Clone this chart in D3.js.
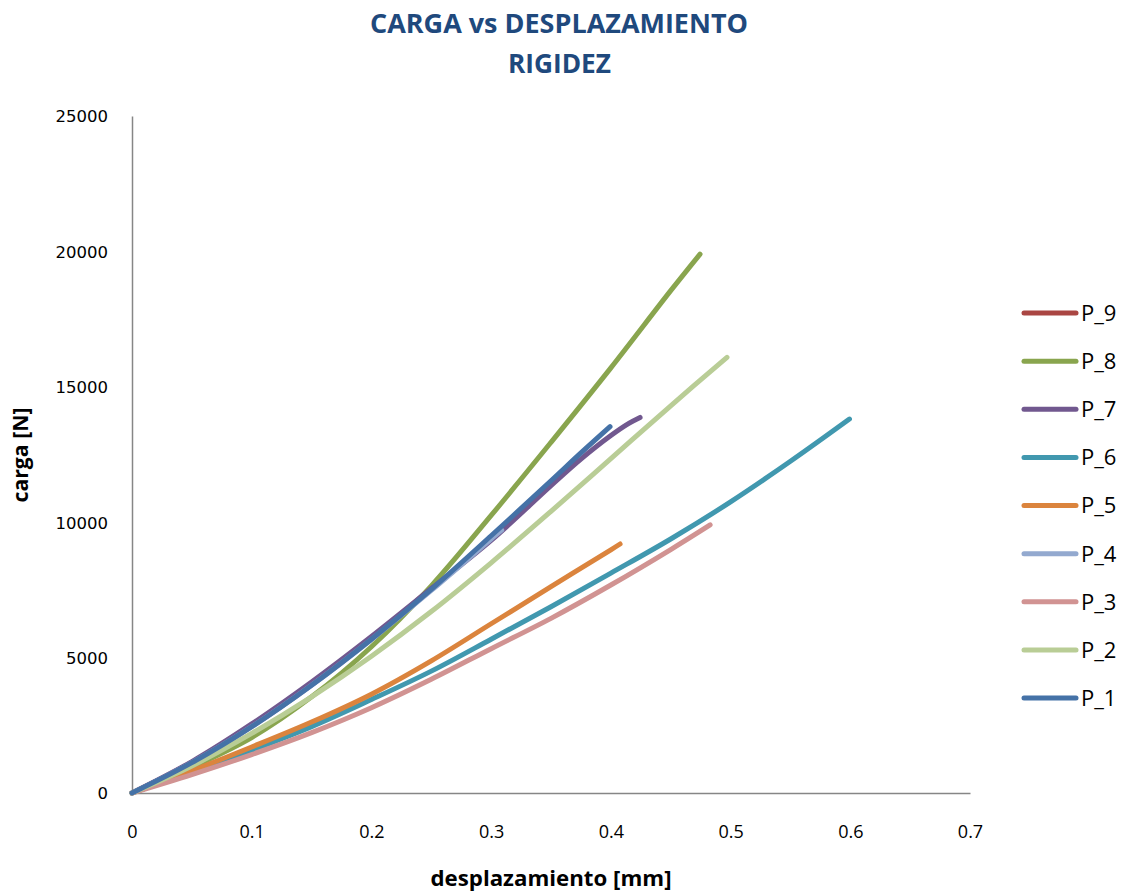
<!DOCTYPE html>
<html>
<head>
<meta charset="utf-8">
<script src="https://cdn.jsdelivr.net/npm/d3@7"></script>
<style>
  html, body { margin: 0; padding: 0; background: #fff; }
  svg { display: block; }
</style>
</head>
<body>
<svg id="chart" width="1128" height="894"></svg>
<script>
// ---- Data ----
const seriesNames = ["P_1", "P_2", "P_3", "P_4", "P_5", "P_6", "P_7", "P_8", "P_9"];
const seriesColors = ["#4572A7", "#B9CD96", "#D19392", "#93A9CF", "#DB843D", "#4198AF", "#71588F", "#89A54E", "#AA4643"];

// displacement [mm], load [N]
const P_1 = [[0,0],[0.05,1120],[0.1,2450],[0.15,3980],[0.2,5680],[0.25,7520],[0.3,9500],[0.35,11530],[0.375,12560],[0.3993,13530]];
const P_2 = [[0,0],[0.05,1000],[0.1,2200],[0.15,3550],[0.2,5050],[0.25,6700],[0.3,8500],[0.35,10400],[0.4,12350],[0.45,14300],[0.497,16090]];
const P_3 = [[0,0],[0.05,680],[0.1,1420],[0.15,2230],[0.2,3150],[0.25,4200],[0.3,5330],[0.35,6450],[0.4,7680],[0.45,8990],[0.4829,9900]];
const P_4 = [[0,0],[0.05,1120],[0.1,2450],[0.15,3980],[0.2,5670],[0.25,7480],[0.3,9380],[0.3088,9710]];
const P_5 = [[0,0],[0.05,820],[0.1,1700],[0.15,2620],[0.2,3650],[0.25,4880],[0.3,6250],[0.35,7620],[0.4,8980],[0.4077,9195]];
const P_6 = [[0,0],[0.05,770],[0.1,1580],[0.15,2450],[0.2,3450],[0.25,4500],[0.3,5680],[0.35,6880],[0.4,8120],[0.45,9380],[0.5,10750],[0.55,12250],[0.5993,13810]];
const P_7 = [[0,0],[0.05,1160],[0.1,2550],[0.15,4100],[0.2,5780],[0.25,7550],[0.3,9330],[0.35,11350],[0.375,12330],[0.4,13200],[0.415,13650],[0.4244,13870]];
const P_8 = [[0,0],[0.05,950],[0.1,2050],[0.15,3550],[0.2,5400],[0.25,7650],[0.3,10250],[0.35,12950],[0.4,15700],[0.45,18550],[0.4745,19900]];
const P_9 = [[0,0],[0.05,1130],[0.1,2470],[0.15,4000],[0.2,5700],[0.248,7480]];
const seriesData = [P_1, P_2, P_3, P_4, P_5, P_6, P_7, P_8, P_9];

const xTicks = [0, 0.1, 0.2, 0.3, 0.4, 0.5, 0.6, 0.7];
const yTicks = [0, 5000, 10000, 15000, 20000, 25000];

const titleLines = ["CARGA vs DESPLAZAMIENTO", "RIGIDEZ"];
const xTitle = "desplazamiento [mm]";
const yTitle = "carga [N]";

// ---- Layout ----
const svg = d3.select("#chart");
const plot = { left: 132, right: 970, top: 116, bottom: 793 };

const x = d3.scaleLinear().domain([0, 0.7]).range([plot.left, plot.right]);
const y = d3.scaleLinear().domain([0, 25000]).range([plot.bottom, plot.top]);

// Title
svg.append("text")
  .attr("x", 559).attr("y", 33)
  .attr("text-anchor", "middle")
  .attr("font-family", "'Open Sans', sans-serif")
  .attr("font-weight", "bold").attr("font-size", 27)
  .attr("fill", "#1F497D")
  .attr("textLength", 378).attr("lengthAdjust", "spacingAndGlyphs")
  .text(titleLines[0]);
svg.append("text")
  .attr("x", 559.5).attr("y", 73)
  .attr("text-anchor", "middle")
  .attr("font-family", "'Open Sans', sans-serif")
  .attr("font-weight", "bold").attr("font-size", 27)
  .attr("fill", "#1F497D")
  .attr("textLength", 103).attr("lengthAdjust", "spacingAndGlyphs")
  .text(titleLines[1]);

// Axes
const xAxis = d3.axisBottom(x).tickValues(xTicks).tickSize(0).tickPadding(0)
  .tickFormat(d => d === 0 ? "0" : d3.format(".1f")(d));
const gx = svg.append("g").attr("transform", `translate(0,${plot.bottom})`).call(xAxis);
gx.select(".domain").attr("stroke", "#868686").attr("stroke-width", 1.5);
gx.selectAll(".tick text")
  .attr("y", 45).attr("dy", 0)
  .attr("font-family", "'Liberation Sans Narrow', 'Open Sans', sans-serif")
  .attr("font-size", 18).attr("fill", "#000");

const yAxis = d3.axisLeft(y).tickValues(yTicks).tickSize(0).tickPadding(0)
  .tickFormat(d3.format("d"));
const gy = svg.append("g").attr("transform", `translate(${plot.left},0)`).call(yAxis);
gy.select(".domain").attr("stroke", "#868686").attr("stroke-width", 1.5);
gy.selectAll(".tick text")
  .attr("x", -24).attr("dy", "0.36em")
  .attr("font-family", "'DejaVu Sans', sans-serif")
  .attr("font-size", 16.5).attr("fill", "#000");

// Axis titles
svg.append("text")
  .attr("x", 551).attr("y", 886)
  .attr("text-anchor", "middle")
  .attr("font-family", "'Open Sans', sans-serif")
  .attr("font-weight", "bold").attr("font-size", 21)
  .attr("fill", "#000")
  .attr("textLength", 241).attr("lengthAdjust", "spacingAndGlyphs")
  .text(xTitle);
svg.append("text")
  .attr("transform", "translate(28,455) rotate(-90)")
  .attr("text-anchor", "middle")
  .attr("font-family", "'Open Sans', sans-serif")
  .attr("font-weight", "bold").attr("font-size", 21)
  .attr("fill", "#000")
  .attr("textLength", 95).attr("lengthAdjust", "spacingAndGlyphs")
  .text(yTitle);

// Lines (P_9 drawn first, P_1 on top)
const line = d3.line()
  .x(d => x(d[0]))
  .y(d => y(d[1]))
  .curve(d3.curveCatmullRom.alpha(0.5));

const order = d3.range(seriesNames.length).reverse();
svg.append("g").selectAll("path")
  .data(order)
  .join("path")
  .attr("d", i => line(seriesData[i]))
  .attr("fill", "none")
  .attr("stroke", i => seriesColors[i])
  .attr("stroke-width", 5)
  .attr("stroke-linecap", "round")
  .attr("stroke-linejoin", "round");

// Legend (P_9 on top, P_1 at bottom)
const legendY = d3.scaleLinear().domain([0, 8]).range([313, 698]);
const lg = svg.append("g").selectAll("g")
  .data(order)
  .join("g")
  .attr("transform", (d, k) => `translate(0,${legendY(k)})`);
lg.append("line")
  .attr("x1", 1024).attr("x2", 1076)
  .attr("stroke", i => seriesColors[i])
  .attr("stroke-width", 5)
  .attr("stroke-linecap", "round");
lg.append("text")
  .attr("x", 1081).attr("y", 0).attr("dy", "0.36em")
  .attr("font-family", "'Open Sans', sans-serif")
  .attr("font-size", 22)
  .attr("fill", "#000")
  .text(i => seriesNames[i]);
</script>
</body>
</html>
